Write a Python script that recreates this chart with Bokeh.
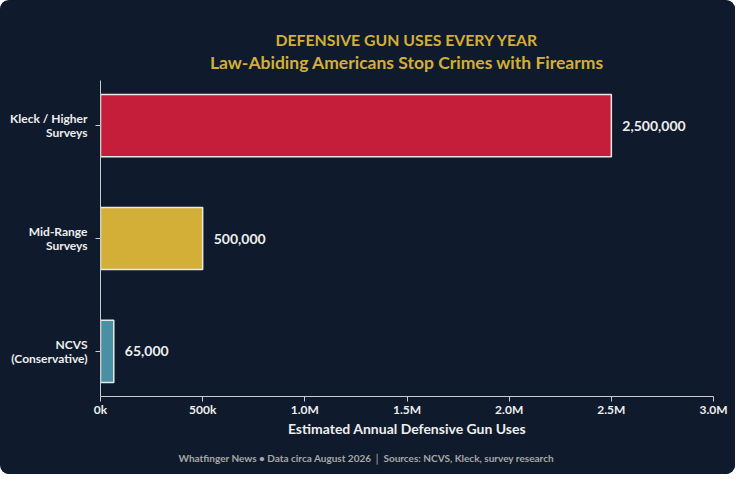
from bokeh.plotting import figure
from bokeh.models import Range1d, FixedTicker, Title, ColumnDataSource, LabelSet
from bokeh.core.properties import value
from bokeh.embed import file_html
from bokeh.resources import INLINE

categories = ["Kleck / Higher\nSurveys", "Mid-Range\nSurveys", "NCVS\n(Conservative)"]
values = [2500000, 500000, 65000]
value_labels = ["2,500,000", "500,000", "65,000"]
colors = ["#c41e3a", "#d4af37", "#4a90a4"]
x_ticks = [0, 500000, 1000000, 1500000, 2000000, 2500000, 3000000]
x_tick_labels = ["0k", "500k", "1.0M", "1.5M", "2.0M", "2.5M", "3.0M"]

FONT = "Lato"
BG = "#0f1b2c"
TXT = "#eeeeee"

n = len(categories)
ypos = [n - 1 - i for i in range(n)]

src = ColumnDataSource(dict(y=ypos, v=values, lab=value_labels, c=colors))

p = figure(width=735, height=474, output_backend="svg", toolbar_location=None,
           x_range=Range1d(0, 3000000), y_range=Range1d(-0.4, n - 1 + 0.4),
           min_border_left=100, min_border_right=22, min_border_top=80, min_border_bottom=76,
           background_fill_color=BG, border_fill_color=BG,
           styles={"border-radius": "9px", "overflow": "hidden", "background-color": BG})
p.outline_line_color = None

p.hbar(y="y", right="v", left=0, height=0.55, fill_color="c", line_color="#e8e8e8",
       line_width=1.5, source=src)

p.add_layout(LabelSet(x="v", y="y", text="lab", source=src, x_offset=11, y_offset=0,
                      text_color=TXT, text_font=value(FONT), text_font_style="bold",
                      text_font_size="14px", text_baseline="middle", text_align="left"))

p.xgrid.visible = False
p.ygrid.visible = False

p.xaxis.ticker = FixedTicker(ticks=x_ticks)
p.xaxis.major_label_overrides = {t: l for t, l in zip(x_ticks, x_tick_labels)}
p.yaxis.ticker = FixedTicker(ticks=ypos)
p.yaxis.major_label_overrides = {y: c for y, c in zip(ypos, categories)}

for ax in (p.xaxis, p.yaxis):
    ax.axis_line_color = "#cccccc"
    ax.axis_line_width = 1
    ax.major_tick_line_color = "#cccccc"
    ax.major_tick_out = 5
    ax.major_tick_in = 0
    ax.minor_tick_line_color = None
    ax.major_label_text_color = TXT
    ax.major_label_text_font = FONT
    ax.major_label_text_font_style = "bold"
    ax.major_label_text_font_size = "12px"

p.yaxis.major_label_text_line_height = 0.95
p.xaxis.axis_label = "Estimated Annual Defensive Gun Uses"
p.xaxis.axis_label_text_color = TXT
p.xaxis.axis_label_text_font = FONT
p.xaxis.axis_label_text_font_style = "bold"
p.xaxis.axis_label_text_font_size = "14px"
p.xaxis.axis_label_standoff = 0
p.xaxis.major_label_standoff = 0
p.yaxis.major_label_standoff = 8

p.title = None
p.add_layout(Title(text="Law-Abiding Americans Stop Crimes with Firearms", align="center",
                   text_color="#d4af37", text_font=FONT, text_font_style="bold",
                   text_font_size="17.5px", standoff=16), "above")
p.add_layout(Title(text="DEFENSIVE GUN USES EVERY YEAR", align="center",
                   text_color="#d4af37", text_font=FONT, text_font_style="bold",
                   text_font_size="15.8px", standoff=-15), "above")

p.add_layout(Title(text="Whatfinger News \u2022 Data circa August 2026  \u2502  Sources: NCVS, Kleck, survey research",
                   align="left", offset=78, text_color="#a8a8a8", text_font=FONT,
                   text_font_style="bold", text_font_size="10px", standoff=21), "below")

open("out.html", "w").write(file_html(p, INLINE))
